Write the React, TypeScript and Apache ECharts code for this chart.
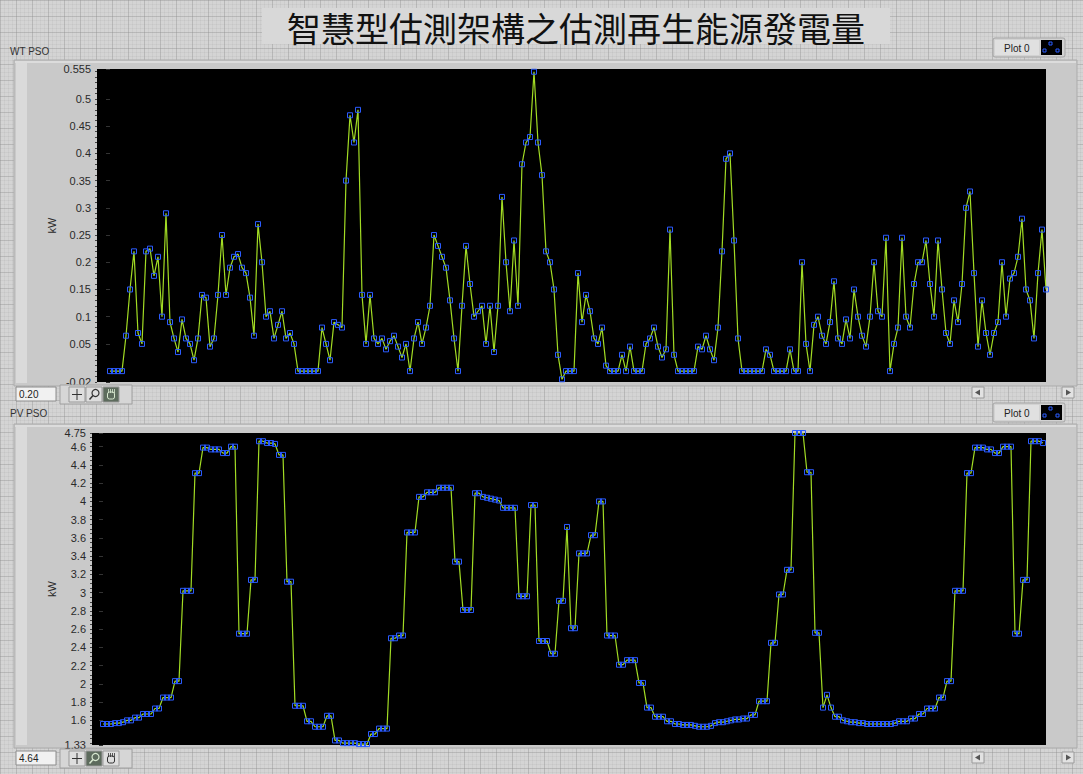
import React, { useEffect, useRef } from "react";
import * as echarts from "echarts";

const TITLE = "智慧型估測架構之估測再生能源發電量";
const WT_NAME = "WT PSO";
const PV_NAME = "PV PSO";
const UNIT = "kW";
const LEGEND_NAME = "Plot 0";
const WT_CURSOR = "0.20";
const PV_CURSOR = "4.64";

// Wind turbine estimated output (kW), one value per sample
const WT_KW = [
  0, 0, 0, 0, 0.065, 0.15, 0.22, 0.07, 0.05, 0.22,
  0.225, 0.175, 0.21, 0.1, 0.29, 0.09, 0.06, 0.035, 0.095, 0.06,
  0.05, 0.02, 0.06, 0.14, 0.135, 0.045, 0.06, 0.14, 0.25, 0.14,
  0.19, 0.21, 0.215, 0.19, 0.18, 0.135, 0.065, 0.27, 0.2, 0.1,
  0.11, 0.06, 0.085, 0.11, 0.06, 0.07, 0.05, 0, 0, 0,
  0, 0, 0, 0.08, 0.05, 0.02, 0.09, 0.085, 0.08, 0.35,
  0.47, 0.42, 0.48, 0.14, 0.05, 0.14, 0.06, 0.05, 0.06, 0.04,
  0.055, 0.065, 0.045, 0.025, 0.05, 0, 0.06, 0.09, 0.05, 0.08,
  0.12, 0.25, 0.23, 0.21, 0.19, 0.13, 0.06, 0, 0.12, 0.23,
  0.16, 0.1, 0.11, 0.12, 0.05, 0.12, 0.035, 0.12, 0.32, 0.2,
  0.11, 0.24, 0.12, 0.38, 0.42, 0.43, 0.55, 0.42, 0.36, 0.22,
  0.2, 0.15, 0.03, -0.015, 0, 0, 0, 0.18, 0.09, 0.14,
  0.11, 0.06, 0.05, 0.08, 0.01, 0, 0, 0, 0.03, 0,
  0.045, 0, 0, 0, 0.05, 0.06, 0.08, 0.045, 0.025, 0.04,
  0.26, 0.03, 0, 0, 0, 0, 0, 0.045, 0.04, 0.065,
  0.04, 0.02, 0.08, 0.22, 0.39, 0.4, 0.24, 0.06, 0, 0,
  0, 0, 0, 0, 0.04, 0.03, 0, 0, 0, 0,
  0.04, 0, 0, 0.2, 0.05, 0, 0.085, 0.1, 0.065, 0.05,
  0.09, 0.165, 0.06, 0.05, 0.095, 0.06, 0.15, 0.1, 0.065, 0.045,
  0.1, 0.2, 0.11, 0.1, 0.245, 0, 0.05, 0.08, 0.245, 0.1,
  0.08, 0.16, 0.2, 0.2, 0.24, 0.16, 0.1, 0.24, 0.15, 0.07,
  0.05, 0.13, 0.09, 0.16, 0.3, 0.33, 0.18, 0.045, 0.13, 0.07,
  0.03, 0.07, 0.09, 0.2, 0.1, 0.17, 0.18, 0.21, 0.28, 0.15,
  0.13, 0.06, 0.18, 0.26, 0.15,
];

// PV estimated output (kW), one value per sample
const PV_KW = [
  1.56, 1.56, 1.56, 1.57, 1.57, 1.58, 1.6, 1.6, 1.63, 1.63,
  1.67, 1.67, 1.67, 1.73, 1.73, 1.85, 1.85, 1.85, 2.03, 2.03,
  3.02, 3.02, 3.02, 4.31, 4.31, 4.59, 4.59, 4.57, 4.57, 4.57,
  4.53, 4.53, 4.6, 4.6, 2.55, 2.55, 2.55, 3.14, 3.14, 4.66,
  4.66, 4.64, 4.64, 4.63, 4.51, 4.51, 3.12, 3.12, 1.76, 1.76,
  1.76, 1.59, 1.59, 1.53, 1.53, 1.53, 1.65, 1.65, 1.38, 1.38,
  1.35, 1.35, 1.35, 1.35, 1.34, 1.34, 1.34, 1.45, 1.45, 1.51,
  1.51, 1.51, 2.5, 2.5, 2.53, 2.53, 3.66, 3.66, 3.66, 4.05,
  4.05, 4.1, 4.1, 4.1, 4.15, 4.15, 4.15, 4.15, 3.34, 3.34,
  2.81, 2.81, 2.81, 4.09, 4.09, 4.05, 4.04, 4.03, 4.02, 4.01,
  3.93, 3.93, 3.93, 3.93, 2.96, 2.96, 2.96, 3.96, 3.96, 2.47,
  2.47, 2.47, 2.33, 2.33, 2.91, 2.91, 3.72, 2.61, 2.61, 3.43,
  3.43, 3.43, 3.63, 3.63, 4.0, 4.0, 2.53, 2.53, 2.53, 2.21,
  2.21, 2.26, 2.26, 2.26, 2.01, 2.01, 1.74, 1.74, 1.64, 1.64,
  1.64, 1.59, 1.59, 1.56, 1.56, 1.55, 1.55, 1.55, 1.54, 1.53,
  1.53, 1.53, 1.54, 1.57, 1.58, 1.58, 1.59, 1.6, 1.61, 1.61,
  1.62, 1.62, 1.66, 1.66, 1.81, 1.81, 1.81, 2.45, 2.45, 2.98,
  2.98, 3.25, 3.25, 4.75, 4.75, 4.75, 4.32, 4.32, 2.56, 2.56,
  1.74, 1.88, 1.74, 1.64, 1.64, 1.6, 1.59, 1.58, 1.58, 1.57,
  1.57, 1.56, 1.56, 1.56, 1.56, 1.56, 1.56, 1.56, 1.57, 1.59,
  1.59, 1.59, 1.62, 1.62, 1.67, 1.67, 1.73, 1.73, 1.73, 1.85,
  1.85, 2.03, 2.03, 3.02, 3.02, 3.02, 4.31, 4.31, 4.59, 4.59,
  4.59, 4.57, 4.57, 4.53, 4.53, 4.6, 4.6, 4.6, 2.55, 2.55,
  3.14, 3.14, 4.66, 4.66, 4.66, 4.64,
];

const WT_TICKS = [-0.02, 0.05, 0.1, 0.15, 0.2, 0.25, 0.3, 0.35, 0.4, 0.45, 0.5, 0.555];
const PV_TICKS = [1.33, 1.6, 1.8, 2, 2.2, 2.4, 2.6, 2.8, 3, 3.2, 3.4, 3.6, 3.8, 4, 4.2, 4.4, 4.6, 4.75];

const WT_MIN = -0.02;
const WT_MAX = 0.555;
const PV_MIN = 1.33;
const PV_MAX = 4.75;

function minorTicks(from: number, to: number, step: number) {
  const out: number[] = [];
  const n = Math.round((to - from) / step);
  for (let k = 0; k <= n; k++) out.push(Math.round((from + k * step) * 1000) / 1000);
  return out;
}
const WT_MINOR = minorTicks(-0.02, 0.55, 0.01);
const PV_MINOR = minorTicks(1.35, 4.75, 0.05);

const LINE_COLOR = "#a2dc24";
const MARK_COLOR = "#2b5cff";
const LABEL_FONT = "Liberation Sans";

function legend(y: number) {
  const x = 993;
  return [
    { type: "rect", z: 5, shape: { x, y, width: 72, height: 19, r: 2 }, style: { fill: "#d2d2d2", stroke: "#a4a4a4", lineWidth: 1 } },
    { type: "rect", z: 5, shape: { x: x + 2, y: y + 2, width: 44, height: 15 }, style: { fill: "#e0e0e0" } },
    { type: "text", z: 6, x: x + 11, y: y + 10, style: { text: LEGEND_NAME, fontSize: 10, fontFamily: LABEL_FONT, fill: "#222", verticalAlign: "middle" } },
    { type: "rect", z: 6, shape: { x: x + 48, y: y + 2, width: 21, height: 15 }, style: { fill: "#000" } },
    { type: "rect", z: 7, shape: { x: x + 56, y: y + 4, width: 3, height: 3 }, style: { fill: "none", stroke: MARK_COLOR, lineWidth: 1 } },
    { type: "rect", z: 7, shape: { x: x + 50, y: y + 11, width: 3, height: 3 }, style: { fill: "none", stroke: MARK_COLOR, lineWidth: 1 } },
    { type: "rect", z: 7, shape: { x: x + 63, y: y + 11, width: 3, height: 3 }, style: { fill: "none", stroke: MARK_COLOR, lineWidth: 1 } },
  ];
}

function numBox(y: number, text: string) {
  return [
    { type: "rect", z: 5, shape: { x: 16, y, width: 40, height: 14 }, style: { fill: "#f1f1f1", stroke: "#8c8c8c", lineWidth: 1 } },
    { type: "text", z: 6, x: 19, y: y + 7.5, style: { text, fontSize: 10, fontFamily: LABEL_FONT, fill: "#222", verticalAlign: "middle" } },
  ];
}

function palette(y: number, active: number) {
  const els: any[] = [
    { type: "rect", z: 5, shape: { x: 60, y, width: 72, height: 19 }, style: { fill: "#d6d6d6", stroke: "#a0a0a0", lineWidth: 1 } },
  ];
  const bxs = [69, 86, 103];
  bxs.forEach((bx, i) => {
    const on = i === active;
    els.push({ type: "rect", z: 6, shape: { x: bx, y: y + 2, width: 16, height: 15 }, style: { fill: on ? "#5d6b5d" : "#dedede", stroke: "#999", lineWidth: 1 } });
    const c = on ? "#d8e8d0" : "#333";
    if (i === 0) {
      els.push({ type: "line", z: 7, shape: { x1: bx + 8, y1: y + 4, x2: bx + 8, y2: y + 15 }, style: { stroke: c, lineWidth: 1 } });
      els.push({ type: "line", z: 7, shape: { x1: bx + 3, y1: y + 9.5, x2: bx + 13, y2: y + 9.5 }, style: { stroke: c, lineWidth: 1 } });
    } else if (i === 1) {
      els.push({ type: "circle", z: 7, shape: { cx: bx + 9.5, cy: y + 8, r: 3.5 }, style: { fill: "none", stroke: c, lineWidth: 1.2 } });
      els.push({ type: "line", z: 7, shape: { x1: bx + 7, y1: y + 10.5, x2: bx + 3.5, y2: y + 14.5 }, style: { stroke: c, lineWidth: 1.5 } });
    } else {
      els.push({ type: "rect", z: 7, shape: { x: bx + 4.5, y: y + 7, width: 7, height: 7, r: 2 }, style: { fill: "none", stroke: c, lineWidth: 1 } });
      [5.5, 7.5, 9.5, 11.5].forEach((dx) => {
        els.push({ type: "line", z: 7, shape: { x1: bx + dx, y1: y + 4, x2: bx + dx, y2: y + 8 }, style: { stroke: c, lineWidth: 0.8 } });
      });
    }
  });
  return els;
}

function arrows(y: number) {
  return [
    { type: "rect", z: 5, shape: { x: 972, y, width: 12, height: 11 }, style: { fill: "#e2e2e2", stroke: "#9a9a9a", lineWidth: 1 } },
    { type: "polygon", z: 6, shape: { points: [[975, y + 5.5], [980, y + 2.5], [980, y + 8.5]] }, style: { fill: "#555" } },
    { type: "rect", z: 5, shape: { x: 1062, y, width: 12, height: 11 }, style: { fill: "#e2e2e2", stroke: "#9a9a9a", lineWidth: 1 } },
    { type: "polygon", z: 6, shape: { points: [[1071, y + 5.5], [1066, y + 2.5], [1066, y + 8.5]] }, style: { fill: "#555" } },
  ];
}

function frame(y: number, h: number) {
  return [
    { type: "rect", z: -10, shape: { x: 14, y, width: 1063, height: h }, style: { fill: "#c9c9c9", stroke: "#ababab", lineWidth: 1 } },
    { type: "rect", z: -9, shape: { x: 16, y: y + 3, width: 11, height: h - 6 }, style: { fill: "#dadada" } },
    { type: "rect", z: -9, shape: { x: 15, y: y + 1, width: 1061, height: 2 }, style: { fill: "#dcdcdc" } },
  ];
}

function buildGraphics() {
  const g: any[] = [];
  g.push({ type: "rect", z: -10, shape: { x: 262, y: 8, width: 628, height: 36 }, style: { fill: "#d8d8d8" } });
  g.push({ type: "text", z: 5, x: 576, y: 27, style: { text: TITLE, fontSize: 34, fontFamily: '"Noto Sans CJK TC"', fill: "#111", align: "center", verticalAlign: "middle" } });
  g.push({ type: "text", z: 5, x: 10, y: 51, style: { text: WT_NAME, fontSize: 10, fontFamily: LABEL_FONT, fill: "#333", verticalAlign: "middle" } });
  g.push({ type: "text", z: 5, x: 10, y: 413, style: { text: PV_NAME, fontSize: 10, fontFamily: LABEL_FONT, fill: "#333", verticalAlign: "middle" } });
  g.push(...frame(60, 326));
  g.push(...frame(424, 324));
  g.push(...legend(38));
  g.push(...legend(403));
  g.push(...numBox(387, WT_CURSOR));
  g.push(...numBox(751, PV_CURSOR));
  g.push(...palette(385, 2));
  g.push(...palette(749, 1));
  g.push(...arrows(387));
  g.push(...arrows(752));
  return g;
}

const labelStyle = { color: "#2a2a2a", fontSize: 11, fontFamily: LABEL_FONT };
const fmt = (v: number) => String(parseFloat(Number(v).toFixed(3)));

function yAxes(gridIndex: number, min: number, max: number, ticks: number[], minor: number[], nameGap: number) {
  return [
    {
      gridIndex,
      type: "value",
      min,
      max,
      position: "left",
      axisLine: { show: false },
      splitLine: { show: false },
      axisTick: { show: true, length: 4, customValues: ticks, lineStyle: { color: "#333", width: 1 } },
      axisLabel: { show: true, customValues: ticks, margin: 6, formatter: fmt, ...labelStyle },
      name: UNIT,
      nameLocation: "middle",
      nameGap,
      nameRotate: 90,
      nameMoveOverlap: false,
      nameTextStyle: { ...labelStyle },
    },
    {
      gridIndex,
      type: "value",
      min,
      max,
      position: "left",
      axisLine: { show: false },
      splitLine: { show: false },
      axisLabel: { show: false },
      axisTick: { show: true, length: 2, customValues: minor, lineStyle: { color: "#444", width: 1 } },
    },
  ];
}

export default function App() {
  const ref = useRef<HTMLDivElement>(null);
  useEffect(() => {
    if (!ref.current) return;
    const chart = echarts.init(ref.current, undefined, { renderer: "svg" });
    const seriesStyle = {
      type: "line",
      symbol: "rect",
      symbolSize: 5,
      showSymbol: true,
      showAllSymbol: true,
      silent: true,
      lineStyle: { color: LINE_COLOR, width: 1.2 },
      itemStyle: { color: "rgba(0,0,0,0)", borderColor: MARK_COLOR, borderWidth: 1 },
      emphasis: { disabled: true },
    };
    chart.setOption({
      animation: false,
      backgroundColor: "transparent",
      graphic: { elements: buildGraphics() },
      grid: [
        { left: 97, top: 69, width: 949, height: 313, show: true, backgroundColor: "#000", borderWidth: 0 },
        { left: 92, top: 433, width: 954, height: 312, show: true, backgroundColor: "#000", borderWidth: 0 },
      ],
      xAxis: [
        { gridIndex: 0, type: "value", min: -3.25, max: 234, show: false },
        { gridIndex: 1, type: "value", min: -2.75, max: 235.75, show: false },
      ],
      yAxis: [
        ...yAxes(0, WT_MIN, WT_MAX, WT_TICKS, WT_MINOR, 40),
        ...yAxes(1, PV_MIN, PV_MAX, PV_TICKS, PV_MINOR, 35),
      ],
      series: [
        { ...seriesStyle, name: LEGEND_NAME, xAxisIndex: 0, yAxisIndex: 0, data: WT_KW.map((v, i) => [i, v]) },
        { ...seriesStyle, name: LEGEND_NAME, xAxisIndex: 1, yAxisIndex: 2, data: PV_KW.map((v, i) => [i, v]) },
      ],
    });
    return () => chart.dispose();
  }, []);

  const bg: React.CSSProperties = {
    position: "fixed",
    left: 0,
    top: 0,
    width: 1083,
    height: 774,
    backgroundColor: "#d4d4d4",
    backgroundImage:
      "linear-gradient(to right, rgba(140,140,140,0.32) 1px, transparent 1px), linear-gradient(to bottom, rgba(140,140,140,0.32) 1px, transparent 1px), linear-gradient(to right, rgba(160,160,160,0.14) 1px, transparent 1px), linear-gradient(to bottom, rgba(160,160,160,0.14) 1px, transparent 1px)",
    backgroundSize: "16px 16px, 16px 16px, 4px 4px, 4px 4px",
  };
  return (
    <div style={bg}>
      <div ref={ref} style={{ width: 1083, height: 774 }} />
    </div>
  );
}
